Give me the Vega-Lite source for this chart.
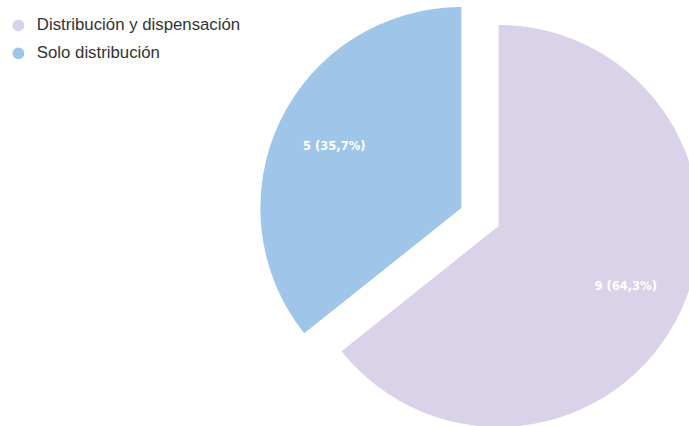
{
  "$schema": "https://vega.github.io/schema/vega-lite/v6.json",
  "autosize": "none",
  "width": 418,
  "height": 418,
  "padding": {"left": 271, "top": 8, "right": 0, "bottom": 0},
  "background": "white",
  "config": {"view": {"stroke": null}, "font": "Liberation Sans"},
  "data": {
    "values": [
      {"category": "Distribución y dispensación", "value": 9, "label": "9 (64,3%)"},
      {"category": "Solo distribución", "value": 5, "label": "5 (35,7%)"}
    ]
  },
  "encoding": {
    "theta": {"field": "value", "type": "quantitative", "stack": true},
    "order": {"field": "category", "sort": "ascending"}
  },
  "layer": [
    {
      "mark": {
        "type": "arc",
        "radius": 201,
        "xOffset": {"expr": "datum.category === 'Solo distribución' ? -18.65 : 18.65"},
        "yOffset": {"expr": "datum.category === 'Solo distribución' ? -8.98 : 8.98"}
      },
      "encoding": {
        "color": {
          "field": "category",
          "type": "nominal",
          "scale": {"domain": ["Distribución y dispensación", "Solo distribución"], "range": ["#d9d2e9", "#9fc5e8"]},
          "legend": {
            "orient": "none",
            "legendX": -261,
            "legendY": 9,
            "title": null,
            "symbolType": "circle",
            "symbolSize": 140,
            "symbolStrokeWidth": 0,
            "labelFontSize": 16.8,
            "labelColor": "#333333",
            "labelFont": "Liberation Sans",
            "labelOffset": 10,
            "rowPadding": 10,
            "labelLimit": 400
          }
        }
      }
    },
    {
      "mark": {
        "type": "text",
        "radius": 141,
        "fill": "white",
        "fontWeight": "bold",
        "fontSize": 11.5,
        "font": "DejaVu Sans",
        "xOffset": {"expr": "datum.category === 'Solo distribución' ? -18.65 : 18.65"},
        "yOffset": {"expr": "datum.category === 'Solo distribución' ? -8.98 : 8.98"}
      },
      "encoding": {
        "text": {"field": "label", "type": "nominal"},
        "detail": {"field": "category", "type": "nominal"}
      }
    }
  ]
}
